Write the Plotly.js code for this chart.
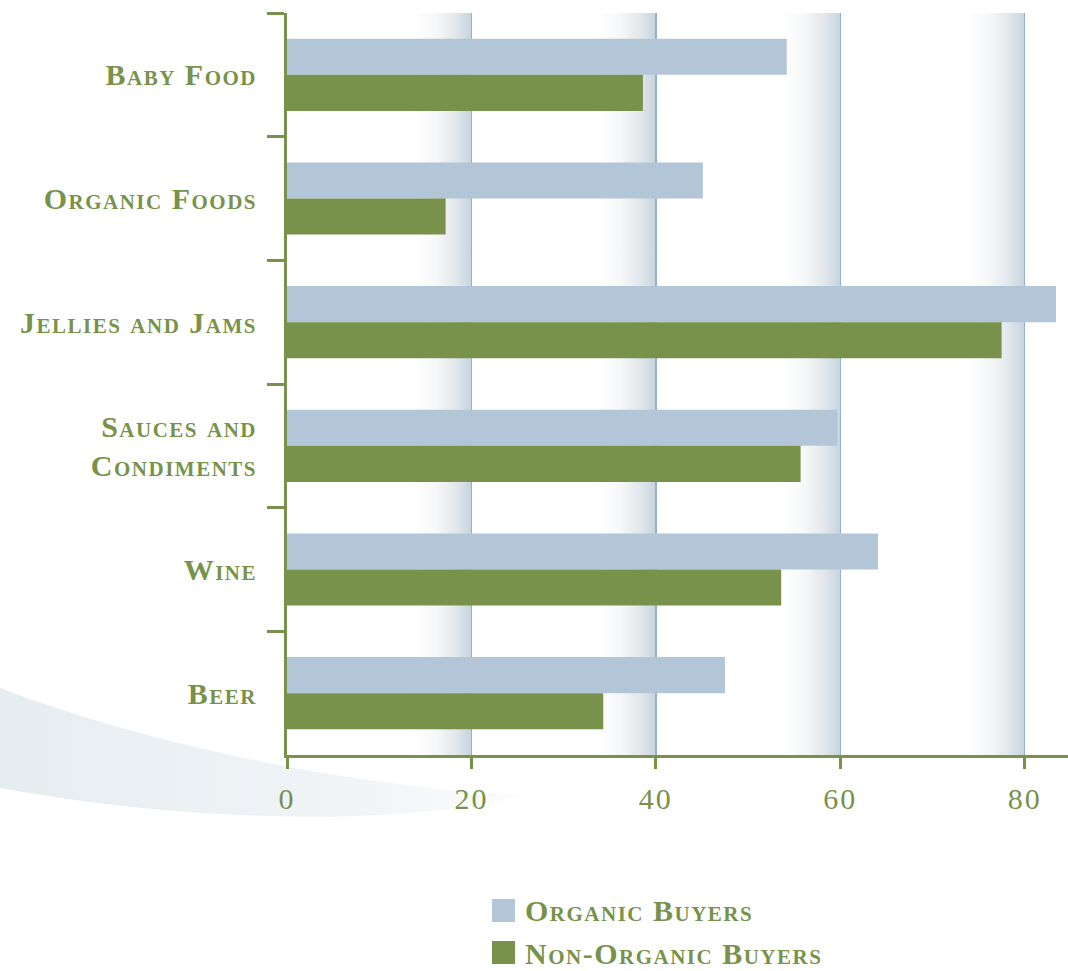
<!DOCTYPE html>
<html>
<head>
<meta charset="utf-8">
<script src="https://cdn.plot.ly/plotly-3.0.1.min.js"></script>
<style>
  html, body { margin: 0; padding: 0; background: #ffffff; }
  #chart { width: 1068px; height: 971px; }
  #chart .ytick text, #chart .annotation-text { letter-spacing: 1.5px; }
  #chart .xtick text { letter-spacing: 2px; }
</style>
</head>
<body>
<div id="chart"></div>
<script>
// ---- Data ----
const categories = ['Baby Food', 'Organic Foods', 'Jellies and Jams', 'Sauces and<br>Condiments', 'Wine', 'Beer'];
const seriesNames = ['Organic Buyers', 'Non-Organic Buyers'];
const organicBuyers = [54.2, 45.1, 83.4, 59.7, 64.1, 47.5];
const nonOrganicBuyers = [38.6, 17.2, 77.5, 55.7, 53.6, 34.3];
const xTickValues = [0, 20, 40, 60, 80];

// ---- Styling ----
const GREEN = '#78924b';
const BLUE = '#b3c6d7';
const W = 1068, H = 971;
const M = {l: 287, r: 0, t: 13, b: 216};
const PW = W - M.l - M.r, PH = H - M.t - M.b;
const px = x => (x - M.l) / PW;
const py = y => (H - M.b - y) / PH;

const labelFont = {family: 'Liberation Serif, serif', size: 30, color: GREEN, weight: 600, variant: 'small-caps'};

const traces = [
  {type: 'bar', orientation: 'h', name: seriesNames[0], y: categories, x: organicBuyers,
   marker: {color: BLUE}, hoverinfo: 'x+y'},
  {type: 'bar', orientation: 'h', name: seriesNames[1], y: categories, x: nonOrganicBuyers,
   marker: {color: GREEN}, hoverinfo: 'x+y'}
];

function svgURI(s) { return 'data:image/svg+xml;charset=utf-8,' + encodeURIComponent(s); }

// gradient band image (white -> blue-grey, toward each gridline)
const bandSVG = svgURI(
  "<svg xmlns='http://www.w3.org/2000/svg' width='100' height='100' viewBox='0 0 100 100' preserveAspectRatio='none'>" +
  "<defs><linearGradient id='g' x1='0' x2='1' y1='0' y2='0'>" +
  "<stop offset='0' stop-color='#ffffff'/><stop offset='0.4' stop-color='#f6f7f8'/>" +
  "<stop offset='0.72' stop-color='#e3e8ec'/><stop offset='1' stop-color='#c6d4de'/>" +
  "</linearGradient></defs><rect x='0' y='0' width='100' height='100' fill='url(#g)'/></svg>");

// decorative swoosh, drawn in page pixel space
const swooshSVG = svgURI(
  "<svg xmlns='http://www.w3.org/2000/svg' width='1068' height='971' viewBox='0 0 1068 971' preserveAspectRatio='none'>" +
  "<defs><linearGradient id='s' gradientUnits='userSpaceOnUse' x1='0' y1='0' x2='525' y2='0'>" +
  "<stop offset='0' stop-color='#e6edf1'/><stop offset='0.6' stop-color='#eff3f6'/><stop offset='1' stop-color='#fbfcfd'/>" +
  "</linearGradient></defs>" +
  "<path d='M0,688 C150,745 350,787 523,795 C420,825 200,825 0,788 Z' fill='url(#s)'/></svg>");

const span = 6.4;
const images = xTickValues.slice(1).map(t => ({
  source: bandSVG, xref: 'x', yref: 'paper',
  x: t - span, y: 1, sizex: span, sizey: 1,
  xanchor: 'left', yanchor: 'top', sizing: 'stretch', layer: 'below'
}));
images.push({
  source: swooshSVG, xref: 'paper', yref: 'paper',
  x: px(0), y: py(0), sizex: W / PW, sizey: H / PH,
  xanchor: 'left', yanchor: 'top', sizing: 'stretch', layer: 'below'
});

// legend (custom, larger swatches)
const shapes = [];
const annotations = [];
const legendRows = [911, 953];
const legendColors = [BLUE, GREEN];
seriesNames.forEach((nm, i) => {
  const cy = legendRows[i];
  shapes.push({type: 'rect', xref: 'paper', yref: 'paper', layer: 'above',
    x0: px(492), x1: px(515), y0: py(cy - 12), y1: py(cy + 11),
    fillcolor: legendColors[i], line: {width: 0}});
  annotations.push({xref: 'paper', yref: 'paper', x: px(523), y: py(cy), xanchor: 'left', yanchor: 'middle',
    align: 'left', text: nm, showarrow: false, font: labelFont});
});

const layout = {
  width: W, height: H,
  margin: M,
  paper_bgcolor: '#ffffff',
  plot_bgcolor: 'rgba(0,0,0,0)',
  barmode: 'group',
  bargap: 0.417,
  bargroupgap: 0,
  showlegend: false,
  xaxis: {
    range: [0, 84.7],
    tickvals: xTickValues,
    ticktext: xTickValues.map(String),
    showgrid: true, gridcolor: '#92b3c7', gridwidth: 1.5,
    zeroline: false,
    showline: true, linecolor: GREEN, linewidth: 3,
    ticks: 'outside', ticklen: 11, tickwidth: 3, tickcolor: GREEN,
    ticklabelstandoff: 4,
    tickfont: {family: 'Liberation Serif, serif', size: 30, color: GREEN}
  },
  yaxis: {
    type: 'category',
    autorange: 'reversed',
    showgrid: false, zeroline: false,
    showline: true, linecolor: GREEN, linewidth: 3,
    ticks: 'outside', ticklen: 17, tickwidth: 3, tickcolor: GREEN,
    tickson: 'boundaries',
    ticklabelstandoff: 21,
    tickfont: labelFont
  },
  images: images,
  shapes: shapes,
  annotations: annotations
};

Plotly.newPlot('chart', traces, layout, {displayModeBar: false, staticPlot: true});
</script>
</body>
</html>
